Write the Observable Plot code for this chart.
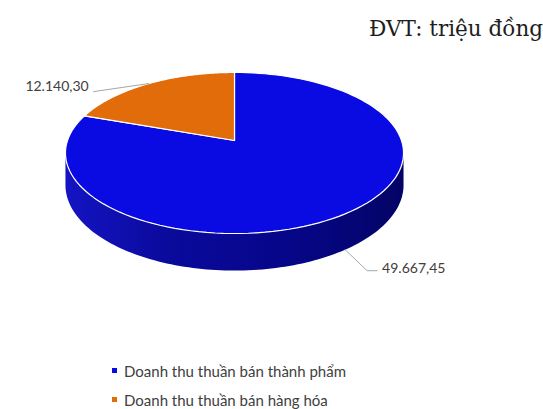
<!DOCTYPE html>
<html><head><meta charset="utf-8">
<script src="https://cdn.jsdelivr.net/npm/d3@7"></script>
<script src="https://cdn.jsdelivr.net/npm/@observablehq/plot@0.6"></script>
<style>
body{margin:0;width:543px;height:409px;overflow:hidden;background:#fff;position:relative}
#title{position:absolute;right:0;top:14px;font-family:"DejaVu Serif";font-size:21.5px;color:#1e1e1e;white-space:nowrap;line-height:30px}
#chart{position:absolute;left:0;top:48px}
#legend{position:absolute;left:112px;top:356px;font-family:Lato;font-size:15px;color:#404040}
.row{display:flex;align-items:center;height:29px;white-space:nowrap}
.sw{width:5px;height:5px;margin-right:7px;flex:none}
</style></head><body>
<div id="title"></div><div id="chart"></div><div id="legend"></div>
<script>
const categories = ["Doanh thu thuần bán thành phẩm", "Doanh thu thuần bán hàng hóa"];
const values = [49667.45, 12140.30];
const valueLabels = ["49.667,45", "12.140,30"];
const colors = ["#0a0ae2", "#e36c0a"];
const unitLabel = "ĐVT: triệu đồng";

// projection geometry (layout)
const W = 543, H = 300;
const cx = 234, cy = 92, A = 167, B = 78.6, k = 0.155, thick = 31.3;
const T = thick / B;
function proj(theta, r, drop = 0) {
  const u = r * Math.sin(theta), v = -r * Math.cos(theta), d = 1 - k * v;
  return {x: u / d, y: (v + drop) / d};
}
const arcs = d3.pie().sort(null)(values);
const N = 120;
const topPts = [], sidePts = [];
const sL = Math.acos(-k), sR = 2 * Math.PI - Math.acos(-k);
arcs.forEach((a, i) => {
  const key = categories[i];
  topPts.push({key, ...proj(0, 0)});
  for (let j = 0; j <= N; j++) {
    const t = a.startAngle + (a.endAngle - a.startAngle) * j / N;
    topPts.push({key, ...proj(t, 1)});
  }
  topPts.push({key, ...proj(0, 0)});
  const s0 = Math.max(a.startAngle, sL), s1 = Math.min(a.endAngle, sR);
  if (s1 > s0) {
    const up = [], dn = [];
    for (let j = 0; j <= N; j++) {
      const t = s0 + (s1 - s0) * j / N;
      up.push({key, ...proj(t, 1)});
      dn.push({key, ...proj(t, 1, T)});
    }
    sidePts.push(...up, ...dn.reverse(), up[0]);
  }
});

// labels / leader lines
const px = dx => dx / A, py = dy => dy / B;
const leaders = [], labelsStart = [], labelsEnd = [];
arcs.forEach((a, i) => {
  const mid = (a.startAngle + a.endAngle) / 2;
  const key = categories[i];
  if (i === 0) {
    const p = proj(mid, 1, T);
    const e = {x: p.x + px(22), y: p.y + py(21)};
    leaders.push({key, ...p}, {key, ...e}, {key, x: e.x + px(10), y: e.y});
    labelsStart.push({x: e.x + px(15), y: e.y - py(2), text: valueLabels[i]});
  } else {
    const p = proj(mid, 1);
    const e = {x: p.x - px(55), y: p.y + py(8)};
    leaders.push({key, ...p}, {key, ...e});
    labelsEnd.push({x: e.x - px(5), y: e.y - py(5), text: valueLabels[i]});
  }
});

const chart = Plot.plot({
  width: W, height: H, margin: 0,
  x: {type: "linear", domain: [-1, 1], range: [cx - A, cx + A], axis: null},
  y: {type: "linear", domain: [-1, 1], range: [cy - B, cy + B], axis: null},
  color: {domain: categories, range: colors},
  marks: [
    Plot.line(sidePts, {x: "x", y: "y", z: "key", fill: "url(#sideGrad)", stroke: "none", curve: "linear"}),
    Plot.line(topPts, {x: "x", y: "y", z: "key", fill: "key", stroke: "white", strokeWidth: 1.2, curve: "linear"}),
    Plot.line(leaders, {x: "x", y: "y", z: "key", stroke: "#a6a6a6", strokeWidth: 1}),
    Plot.text(labelsStart, {x: "x", y: "y", text: "text", textAnchor: "start", fill: "#404040", fontSize: 14, fontFamily: "Lato"}),
    Plot.text(labelsEnd, {x: "x", y: "y", text: "text", textAnchor: "end", fill: "#404040", fontSize: 14, fontFamily: "Lato"})
  ]
});
const defs = d3.select(chart).insert("defs", ":first-child");
const g = defs.append("linearGradient").attr("id", "sideGrad").attr("x1", "0").attr("x2", "1").attr("y1", "0").attr("y2", "0");
[["0%", "#1414c4"], ["30%", "#0a0a9c"], ["65%", "#06068a"], ["100%", "#040466"]].forEach(([o, c]) =>
  g.append("stop").attr("offset", o).attr("stop-color", c));
document.getElementById("chart").appendChild(chart);

document.getElementById("title").textContent = unitLabel;
const leg = d3.select("#legend");
categories.forEach((c, i) => {
  const r = leg.append("div").attr("class", "row");
  r.append("div").attr("class", "sw").style("background", colors[i]);
  r.append("span").text(c);
});
</script>
</body></html>
